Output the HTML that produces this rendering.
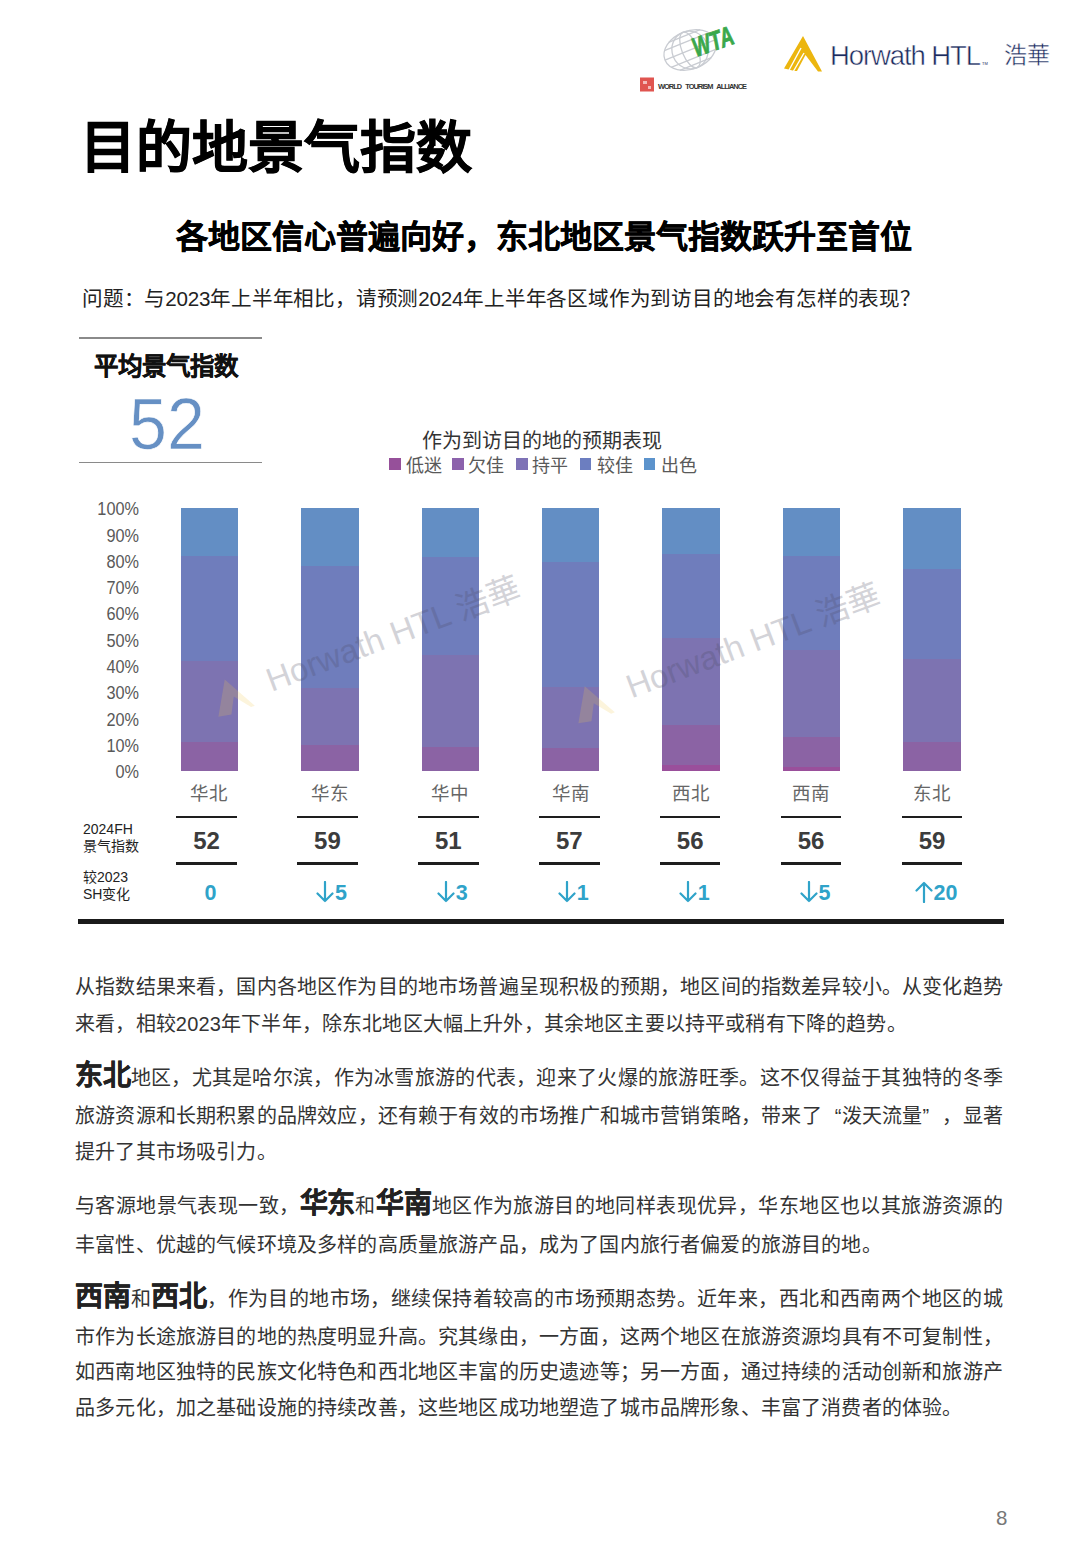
<!DOCTYPE html><html lang="zh-CN"><head>
<meta charset="utf-8">
<style>
html,body{margin:0;padding:0;background:#fff;}
body{width:1080px;height:1560px;position:relative;overflow:hidden;font-family:"Liberation Sans",sans-serif;color:#333;}
.a{position:absolute;white-space:nowrap;}
.title{left:80px;top:108px;font-size:56px;line-height:80px;font-weight:700;-webkit-text-stroke:0.7px #000;color:#000;}
.sub{left:0;width:1088px;text-align:center;top:212px;font-size:32px;line-height:50px;font-weight:700;color:#000;-webkit-text-stroke:0.45px #000;}
.q{left:82px;top:284px;font-size:20.6px;letter-spacing:-0.2px;line-height:30px;color:#222;}
.hl{position:absolute;left:79px;width:183px;height:1.5px;background:#8a8a8a;}
.avgt{left:94px;top:349px;font-size:24.5px;line-height:36px;font-weight:700;color:#111;-webkit-text-stroke:0.35px #111;}
.avgn{left:129px;top:384px;font-size:73px;line-height:80px;color:#6690c4;-webkit-text-stroke:0.7px #fff;transform:scaleX(0.935);transform-origin:0 0;}
.ctitle{left:422px;top:425.5px;font-size:20px;line-height:30px;color:#333;}
.leg{top:453.5px;font-size:18px;line-height:24px;color:#595959;}
.sq{position:absolute;width:11.8px;height:11.5px;top:458px;}
.yl{position:absolute;left:59px;width:80px;text-align:right;font-size:17.5px;line-height:20px;color:#595959;transform:scaleX(0.93);transform-origin:100% 50%;}
.bar{position:absolute;top:508px;width:57.5px;height:263px;}
.bar div{position:absolute;left:0;width:100%;}
.cat{position:absolute;width:120px;text-align:center;top:780px;font-size:18.5px;line-height:28px;color:#666;}
.tl{position:absolute;width:60.5px;height:2.6px;background:#1e1e1e;}
.num{position:absolute;width:120px;text-align:center;top:826px;font-size:24px;line-height:30px;font-weight:700;color:#3c3c3c;}
.chg{position:absolute;width:120px;text-align:center;top:877.5px;font-size:21.5px;line-height:30px;font-weight:700;color:#2fa3c9;}
.rl{left:83px;font-size:14px;line-height:17px;color:#222;}
.p{position:absolute;left:75px;width:928px;font-size:20px;letter-spacing:0.17px;line-height:30px;color:#333;white-space:nowrap;}
.j{text-align:justify;text-align-last:justify;}
.b{font-weight:700;font-size:28px;letter-spacing:-0.3px;line-height:10px;color:#222;-webkit-text-stroke:0.4px #222;}
.wm{position:absolute;font-size:32px;line-height:40px;color:#000;opacity:.13;transform-origin:0 100%;transform:rotate(-18deg);white-space:nowrap;}
</style>
</head>
<body>

<!-- logos -->
<svg class="a" style="left:630px;top:15px" width="430" height="85" viewBox="630 15 430 85">
  <g transform="rotate(-22 690 50)" fill="none" stroke="#c9ccd2" stroke-width="1.3">
    <ellipse cx="690" cy="50" rx="27" ry="19"></ellipse>
    <ellipse cx="690" cy="50" rx="18" ry="19"></ellipse>
    <ellipse cx="690" cy="50" rx="8" ry="19"></ellipse>
    <line x1="663" y1="50" x2="717" y2="50"></line>
    <line x1="666" y1="41" x2="714" y2="41"></line>
    <line x1="666" y1="59" x2="714" y2="59"></line>
    <line x1="673" y1="35" x2="707" y2="35"></line>
    <line x1="673" y1="65" x2="707" y2="65"></line>
  </g>
  <text x="696" y="57" transform="rotate(-19 696 57)" font-family="Liberation Sans" font-weight="700" font-style="italic" font-size="27" fill="#3aa84b" stroke="#3aa84b" stroke-width="0.8" textLength="42" lengthAdjust="spacingAndGlyphs">WTA</text>
  <rect x="640" y="77.5" width="14" height="14" fill="#e05550"></rect>
  <path d="M643 81h4v3h-4zM648 86h3v3h-3z" fill="#fff" opacity=".6"></path>
  <text x="658" y="89" font-family="Liberation Sans" font-weight="700" font-size="7.4" fill="#333" textLength="89" word-spacing="3">WORLD TOURISM ALLIANCE</text>
  <polygon points="803,36 822,71.5 818,71.5 805.5,55 797,71 794.5,71 786.5,69 784,68.5" fill="#ecb60f"></polygon>
  <g stroke="#fff" stroke-width="1.4">
    <line x1="801" y1="48" x2="788" y2="72"></line>
    <line x1="804" y1="53" x2="793" y2="72"></line>
  </g>
  <text x="830" y="64.5" font-family="Liberation Sans" font-size="27.5" fill="#1c2b5e" stroke="#fff" stroke-width="0.5" textLength="151">Horwath HTL</text>
  <text x="982" y="65" font-family="Liberation Sans" font-size="4" fill="#1c2b5e">TM</text>
  <text x="1004" y="63" font-family="Liberation Serif, serif" font-size="23" fill="#1c2b5e" stroke="#fff" stroke-width="0.4">浩華</text>
</svg>

<div class="a title">目的地景气指数</div>
<div class="a sub">各地区信心普遍向好，东北地区景气指数跃升至首位</div>
<div class="a q">问题：与2023年上半年相比，请预测2024年上半年各区域作为到访目的地会有怎样的表现？</div>

<div class="hl" style="top:337px"></div>
<div class="a avgt">平均景气指数</div>
<div class="a avgn">52</div>
<div class="hl" style="top:461.5px"></div>

<div class="a ctitle">作为到访目的地的预期表现</div>
<div class="sq" style="left:389px;background:#96509a"></div><div class="a leg" style="left:406px">低迷</div>
<div class="sq" style="left:452.4px;background:#8c62ac"></div><div class="a leg" style="left:468px">欠佳</div>
<div class="sq" style="left:516px;background:#7e72b6"></div><div class="a leg" style="left:532px">持平</div>
<div class="sq" style="left:579.6px;background:#6c7ec0"></div><div class="a leg" style="left:596.5px">较佳</div>
<div class="sq" style="left:643.5px;background:#5c93cc"></div><div class="a leg" style="left:661px">出色</div>

<div id="chart"><div class="yl" style="top:499.2px">100%</div><div class="yl" style="top:525.5px">90%</div><div class="yl" style="top:551.8000000000001px">80%</div><div class="yl" style="top:578.1px">70%</div><div class="yl" style="top:604.4000000000001px">60%</div><div class="yl" style="top:630.7px">50%</div><div class="yl" style="top:657px">40%</div><div class="yl" style="top:683.3000000000001px">30%</div><div class="yl" style="top:709.6px">20%</div><div class="yl" style="top:735.9000000000001px">10%</div><div class="yl" style="top:762.2px">0%</div><div class="bar" style="left:180.7px"><div style="top:0px;height:47.90000000000002px;background:#638ec4"></div><div style="top:47.60000000000002px;height:105.69999999999997px;background:#6f7dbc"></div><div style="top:153px;height:81.00000000000004px;background:#7d73b1"></div><div style="top:233.70000000000005px;height:29.599999999999955px;background:#8b63a4"></div></div><div class="cat" style="left:149.45px">华北</div><div class="tl" style="left:176.25px;top:815.5px"></div><div class="tl" style="left:176.25px;top:862px"></div><div class="num" style="left:146.5px">52</div><div class="chg" style="left:150.5px">0</div><div class="bar" style="left:301.1px"><div style="top:0px;height:58.00000000000004px;background:#638ec4"></div><div style="top:57.700000000000045px;height:122.59999999999995px;background:#6f7dbc"></div><div style="top:180px;height:57.699999999999974px;background:#7d73b1"></div><div style="top:237.39999999999998px;height:25.900000000000023px;background:#8b63a4"></div></div><div class="cat" style="left:269.85px">华东</div><div class="tl" style="left:297.17px;top:815.5px"></div><div class="tl" style="left:297.17px;top:862px"></div><div class="num" style="left:267.42px">59</div><div class="chg" style="left:271.42px"><svg width="18" height="22" viewBox="0 0 18 22" style="vertical-align:-3px;margin-right:1px"><g fill="none" stroke="#2fa3c9" stroke-width="2.2" stroke-linecap="round" stroke-linejoin="round"><path d="M9 1v19M1.5 12.5L9 20l7.5-7.5"></path></g></svg>5</div><div class="bar" style="left:421.5px"><div style="top:0px;height:49.699999999999974px;background:#638ec4"></div><div style="top:49.39999999999998px;height:97.50000000000004px;background:#6f7dbc"></div><div style="top:146.60000000000002px;height:92.90000000000002px;background:#7d73b1"></div><div style="top:239.20000000000005px;height:24.099999999999955px;background:#8b63a4"></div></div><div class="cat" style="left:390.25px">华中</div><div class="tl" style="left:418.09000000000003px;top:815.5px"></div><div class="tl" style="left:418.09000000000003px;top:862px"></div><div class="num" style="left:388.34000000000003px">51</div><div class="chg" style="left:392.34000000000003px"><svg width="18" height="22" viewBox="0 0 18 22" style="vertical-align:-3px;margin-right:1px"><g fill="none" stroke="#2fa3c9" stroke-width="2.2" stroke-linecap="round" stroke-linejoin="round"><path d="M9 1v19M1.5 12.5L9 20l7.5-7.5"></path></g></svg>3</div><div class="bar" style="left:541.9000000000001px"><div style="top:0px;height:54.3px;background:#638ec4"></div><div style="top:54px;height:125.3px;background:#6f7dbc"></div><div style="top:179px;height:61.3px;background:#7d73b1"></div><div style="top:240px;height:23.3px;background:#8b63a4"></div></div><div class="cat" style="left:510.6500000000001px">华南</div><div class="tl" style="left:539.01px;top:815.5px"></div><div class="tl" style="left:539.01px;top:862px"></div><div class="num" style="left:509.26px">57</div><div class="chg" style="left:513.26px"><svg width="18" height="22" viewBox="0 0 18 22" style="vertical-align:-3px;margin-right:1px"><g fill="none" stroke="#2fa3c9" stroke-width="2.2" stroke-linecap="round" stroke-linejoin="round"><path d="M9 1v19M1.5 12.5L9 20l7.5-7.5"></path></g></svg>1</div><div class="bar" style="left:662.3px"><div style="top:0px;height:46.00000000000004px;background:#638ec4"></div><div style="top:45.700000000000045px;height:84.59999999999995px;background:#6f7dbc"></div><div style="top:130px;height:87.3px;background:#7d73b1"></div><div style="top:217px;height:40.09999999999995px;background:#8b63a4"></div><div style="top:256.79999999999995px;height:6.500000000000045px;background:#9a4f9b"></div></div><div class="cat" style="left:631.05px">西北</div><div class="tl" style="left:659.9300000000001px;top:815.5px"></div><div class="tl" style="left:659.9300000000001px;top:862px"></div><div class="num" style="left:630.1800000000001px">56</div><div class="chg" style="left:634.1800000000001px"><svg width="18" height="22" viewBox="0 0 18 22" style="vertical-align:-3px;margin-right:1px"><g fill="none" stroke="#2fa3c9" stroke-width="2.2" stroke-linecap="round" stroke-linejoin="round"><path d="M9 1v19M1.5 12.5L9 20l7.5-7.5"></path></g></svg>1</div><div class="bar" style="left:782.7px"><div style="top:0px;height:47.8px;background:#638ec4"></div><div style="top:47.5px;height:94.8px;background:#6f7dbc"></div><div style="top:142px;height:87.3px;background:#7d73b1"></div><div style="top:229px;height:30.000000000000046px;background:#8b63a4"></div><div style="top:258.70000000000005px;height:4.599999999999954px;background:#9a4f9b"></div></div><div class="cat" style="left:751.45px">西南</div><div class="tl" style="left:780.85px;top:815.5px"></div><div class="tl" style="left:780.85px;top:862px"></div><div class="num" style="left:751.1px">56</div><div class="chg" style="left:755.1px"><svg width="18" height="22" viewBox="0 0 18 22" style="vertical-align:-3px;margin-right:1px"><g fill="none" stroke="#2fa3c9" stroke-width="2.2" stroke-linecap="round" stroke-linejoin="round"><path d="M9 1v19M1.5 12.5L9 20l7.5-7.5"></path></g></svg>5</div><div class="bar" style="left:903.1000000000001px"><div style="top:0px;height:61.699999999999974px;background:#638ec4"></div><div style="top:61.39999999999998px;height:89.90000000000002px;background:#6f7dbc"></div><div style="top:151px;height:83.00000000000004px;background:#7d73b1"></div><div style="top:233.70000000000005px;height:29.599999999999955px;background:#8b63a4"></div></div><div class="cat" style="left:871.8500000000001px">东北</div><div class="tl" style="left:901.77px;top:815.5px"></div><div class="tl" style="left:901.77px;top:862px"></div><div class="num" style="left:872.02px">59</div><div class="chg" style="left:876.02px"><svg width="18" height="22" viewBox="0 0 18 22" style="vertical-align:-3px;margin-right:1px"><g fill="none" stroke="#2fa3c9" stroke-width="2.2" stroke-linecap="round" stroke-linejoin="round"><path d="M9 21V2M1.5 9.5L9 2l7.5 7.5"></path></g></svg>20</div><svg style="position:absolute;left:0;top:0" width="1080" height="1000"><g transform="rotate(-20.6 273.9 691)"><polygon points="231.89999999999998,663 250.89999999999998,698 246.89999999999998,698 234.39999999999998,682 225.89999999999998,698 212.89999999999998,695.5" fill="#f0c850" opacity=".2"></polygon><text x="271.4" y="691" font-family="Liberation Sans" font-size="33" fill="#4a4a62" opacity=".24">Horwath HTL 浩華</text></g><g transform="rotate(-20.6 633.9 697.7)"><polygon points="591.9,669.7 610.9,704.7 606.9,704.7 594.4,688.7 585.9,704.7 572.9,702.2" fill="#f0c850" opacity=".2"></polygon><text x="631.4" y="697.7" font-family="Liberation Sans" font-size="33" fill="#4a4a62" opacity=".24">Horwath HTL 浩華</text></g></svg></div>

<!-- table labels -->
<div class="a rl" style="top:821px">2024FH</div>
<div class="a rl" style="top:838px">景气指数</div>
<div class="a rl" style="top:868.5px">较2023</div>
<div class="a rl" style="top:885.5px">SH变化</div>

<div style="position:absolute;left:78px;top:919px;width:926px;height:4.5px;background:#1a1a1a"></div>

<!-- paragraphs -->
<div class="p j" style="top:972.4px">从指数结果来看，国内各地区作为目的地市场普遍呈现积极的预期，地区间的指数差异较小。从变化趋势</div>
<div class="p" style="top:1008.5px">来看，相较2023年下半年，除东北地区大幅上升外，其余地区主要以持平或稍有下降的趋势。</div>

<div class="p j" style="top:1063px"><span class="b">东北</span>地区，尤其是哈尔滨，作为冰雪旅游的代表，迎来了火爆的旅游旺季。这不仅得益于其独特的冬季</div>
<div class="p j" style="top:1101px">旅游资源和长期积累的品牌效应，还有赖于有效的市场推广和城市营销策略，带来了<span style="display:inline-block;width:20px;text-align:right;text-align-last:right">“</span>泼天流量<span style="display:inline-block;width:20px;text-align:left;text-align-last:left">”</span>，显著</div>
<div class="p" style="top:1137px">提升了其市场吸引力。</div>

<div class="p j" style="top:1191px">与客源地景气表现一致，<span class="b">华东</span>和<span class="b">华南</span>地区作为旅游目的地同样表现优异，华东地区也以其旅游资源的</div>
<div class="p" style="top:1230px">丰富性、优越的气候环境及多样的高质量旅游产品，成为了国内旅行者偏爱的旅游目的地。</div>

<div class="p j" style="top:1283.5px"><span class="b">西南</span>和<span class="b">西北</span>，作为目的地市场，继续保持着较高的市场预期态势。近年来，西北和西南两个地区的城</div>
<div class="p j" style="top:1321.6px">市作为长途旅游目的地的热度明显升高。究其缘由，一方面，这两个地区在旅游资源均具有不可复制性，</div>
<div class="p j" style="top:1357px">如西南地区独特的民族文化特色和西北地区丰富的历史遗迹等；另一方面，通过持续的活动创新和旅游产</div>
<div class="p" style="top:1393px">品多元化，加之基础设施的持续改善，这些地区成功地塑造了城市品牌形象、丰富了消费者的体验。</div>

<div class="a" style="left:996px;top:1506px;font-size:20.5px;line-height:24px;color:#777">8</div>




</body></html>
